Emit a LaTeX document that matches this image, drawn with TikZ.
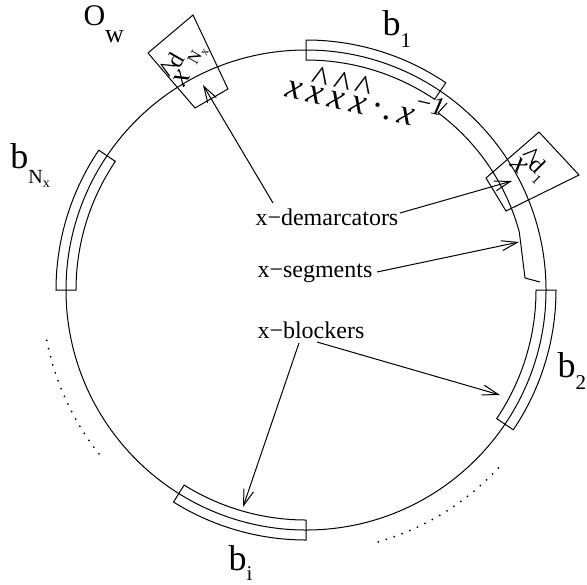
\documentclass[tikz,border=0pt]{standalone}
\usepackage{fontspec}
\setmainfont{Liberation Serif}
\usetikzlibrary{arrows.meta}
\newcommand{\hatx}{\ooalign{\textit{x}\cr\hidewidth\kern0.1em\raisebox{0.38em}{\textasciicircum}\hidewidth\cr}}
\begin{document}
\begin{tikzpicture}[x=0.5pt,y=0.5pt,line width=0.5pt,
  lbl/.style={font=\fontsize{12}{14}\selectfont,inner sep=0pt,anchor=base west},
  big/.style={font=\fontsize{18}{20}\selectfont,inner sep=0pt,anchor=base west},
  arr/.style={-{Straight Barb[length=8pt,width=5pt]},line width=0.5pt},
  dotarc/.style={line width=1pt,line cap=round,dash pattern=on 0pt off 4.2pt}]
\useasboundingbox (0,0) rectangle (587,-584);
\coordinate (C) at (306,-290);
\draw (C) circle[radius=240];
% blockers
\foreach \a/\b in {56/90,146/180,-34/0,-122/-90}
  \draw (C) ++(\a:230) arc[start angle=\a,end angle=\b,radius=230] -- ++(\b:20)
        arc[start angle=\b,end angle=\a,radius=250] -- cycle;
% dotted arcs
\draw[dotarc] (C) ++(191:264) arc[start angle=191,end angle=220,radius=264];
\draw[dotarc] (C) ++(-74:262) arc[start angle=-74,end angle=-42,radius=262];
% segment
\draw (447,-103) -- (438.1,-112.8) arc[start angle=53.3,end angle=15.2,radius=221]
      -- (525,-278) -- (540,-282);
% demarcators
\draw (148,-53) -- (193,-15) -- (228,-89) -- (195,-108) -- cycle;
\draw (486,-178) -- (539,-132) -- (579,-175) -- (506,-211) -- cycle;
\node[rotate=60,inner sep=0pt,font=\fontsize{15}{17}\selectfont] (dN) at (184,-62)
  {\hatx\raisebox{0.42em}{\fontsize{12}{13}\selectfont d\raisebox{-0.5em}{\fontsize{8.5}{9}\selectfont N\raisebox{-0.25em}{\fontsize{6}{7}\selectfont x}}}};
\node[rotate=-45,inner sep=0pt,font=\fontsize{15}{17}\selectfont] (d1) at (531,-167)
  {\hatx\raisebox{0.42em}{\fontsize{12}{13}\selectfont d\raisebox{-0.3em}{\fontsize{7}{8}\selectfont 1}}};
% x sequence
\node[rotate=-13,inner sep=0pt,font=\fontsize{18}{20}\selectfont] (seq) at (365,-98)
  {\textit{x}\,\hatx\,\hatx\,\hatx\,·.\,\textit{x}\raisebox{0.45em}{\fontsize{13}{14}\selectfont −\textit{1}}};
% labels
\node[lbl] (dem) at (255,-225) {x−demarcators};
\node[lbl] (seg) at (257,-277) {x−segments};
\node[lbl] (blk) at (257,-338) {x−blockers};
\node[inner sep=0pt,anchor=base west,font=\fontsize{15}{17}\selectfont] (Ow) at (83,-25) {O\raisebox{-8.5pt}{\fontsize{13}{15}\selectfont w}};
\node[big] (b1) at (382,-35) {b\raisebox{-6pt}{\fontsize{10.5}{12}\selectfont 1}};
\node[big] (bN) at (10,-168) {b\raisebox{-7.5pt}{\fontsize{10}{12}\selectfont N\raisebox{-2pt}{\fontsize{7}{8}\selectfont x}}};
\node[big] (b2) at (557,-377) {b\raisebox{-6pt}{\fontsize{10.5}{12}\selectfont 2}};
\node[big] (bi) at (228,-570) {b\raisebox{-5pt}{\fontsize{10.5}{12}\selectfont i}};
% arrow coordinates
\coordinate (t1) at (273,-203); \coordinate (h1) at (203,-85);
\coordinate (t2) at (400,-213); \coordinate (h2) at (512,-181);
\coordinate (t3) at (377,-272); \coordinate (h3) at (519,-242);
\coordinate (t4) at (317,-342); \coordinate (h4) at (500,-395);
\coordinate (t5) at (299,-343); \coordinate (h5) at (243,-507);
\draw[arr] (t1) -- (h1);
\draw[arr] (t2) -- (h2);
\draw[arr] (t3) -- (h3);
\draw[arr] (t4) -- (h4);
\draw[arr] (t5) -- (h5);
\end{tikzpicture}
\end{document}
